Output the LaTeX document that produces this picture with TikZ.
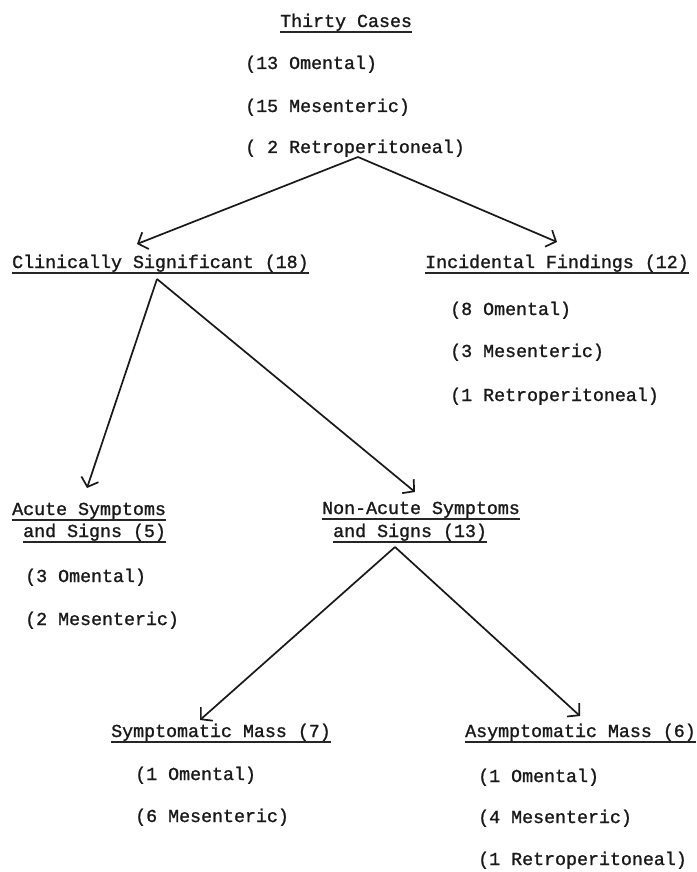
\documentclass[tikz,border=0pt]{standalone}
\usepackage{fontspec}
\setmonofont[FakeBold=1.2]{Liberation Mono}
\usetikzlibrary{arrows.meta}
\tikzset{
  lbl/.style={anchor=base west, inner sep=0pt, text=black!90,
    font=\ttfamily\fontsize{18.3}{22}\selectfont},
  ulline/.style={line width=1.5pt, black!85},
  ul/.style={lbl, text depth=5pt,
    append after command={(\tikzlastnode.south west) edge[ulline] (\tikzlastnode.south east)}},
  arr/.style={line width=1.7pt, black!90,
    -{Straight Barb[length=8pt,width=18pt,line width=1.7pt]}}
}
\begin{document}
\begin{tikzpicture}[x=1pt,y=-1pt]
\fill[white] (0,0) rectangle (696,872);
\useasboundingbox (0,0) rectangle (696,872);

% top
\node[ul]  (t0) at (280,27)  {Thirty Cases};
\node[lbl] (t1) at (245,69)  {(13 Omental)};
\node[lbl] (t2) at (245,112) {(15 Mesenteric)};
\node[lbl] (t3) at (245,153) {( 2 Retroperitoneal)};

% level 2
\node[ul]  (cs) at (12,268)  {Clinically Significant (18)};
\node[ul]  (inc) at (425,268) {Incidental Findings (12)};
\node[lbl] (i1) at (450,315) {(8 Omental)};
\node[lbl] (i2) at (450,357) {(3 Mesenteric)};
\node[lbl] (i3) at (450,401) {(1 Retroperitoneal)};

% level 3
\node[ul]  (ac1) at (12,515) {Acute Symptoms};
\node[ul]  (ac2) at (23,537) {and Signs (5)};
\node[lbl] (a1) at (25,582)  {(3 Omental)};
\node[lbl] (a2) at (25,625)  {(2 Mesenteric)};

\node[ul]  (na1) at (322,514) {Non-Acute Symptoms};
\node[ul]  (na2) at (333,537) {and Signs (13)};

% level 4
\node[ul]  (sm) at (111,737) {Symptomatic Mass (7)};
\node[lbl] (s1) at (135,780) {(1 Omental)};
\node[lbl] (s2) at (135,822) {(6 Mesenteric)};

\node[ul]  (am) at (465,737) {Asymptomatic Mass (6)};
\node[lbl] (m1) at (478,782) {(1 Omental)};
\node[lbl] (m2) at (478,823) {(4 Mesenteric)};
\node[lbl] (m3) at (478,865) {(1 Retroperitoneal)};

% connector ends
\coordinate (p0) at (358,157);
\coordinate (q0l) at (137,244);
\coordinate (q0r) at (557,242);
\coordinate (p1) at (157,279);
\coordinate (q1l) at (87,488);
\coordinate (q1r) at (415,492);
\coordinate (p2) at (395,547);
\coordinate (q2l) at (200,720);
\coordinate (q2r) at (580,716);

\draw[arr] (p0) -- (q0l);
\draw[arr] (p0) -- (q0r);
\draw[arr] (p1) -- (q1l);
\draw[arr] (p1) -- (q1r);
\draw[arr] (p2) -- (q2l);
\draw[arr] (p2) -- (q2r);
\end{tikzpicture}
\end{document}
